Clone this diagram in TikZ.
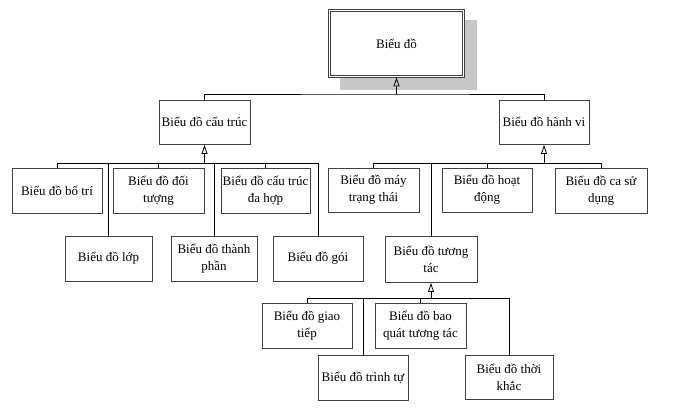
\documentclass[tikz,border=0pt]{standalone}
\usepackage{fontspec}
\setmainfont{Liberation Serif}
\usetikzlibrary{arrows.meta}
\begin{document}
\begin{tikzpicture}[x=1pt,y=-1pt,
  box/.style={draw=black!75, line width=0.9pt, fill=white, inner sep=1pt, align=center,
    font=\fontsize{13}{17}\selectfont,
    preaction={draw=black!45, line width=0.9pt, transform canvas={shift={(0.8pt,-0.8pt)}}}},
  link/.style={draw=black, line width=0.8pt},
  gen/.style={link, shorten >=0.5pt, -{Triangle[open, length=9pt, width=6pt, line width=0.8pt]}}]
\useasboundingbox (0,0) rectangle (682,413);

% root with shadow
\fill[black!22] (340,20) rectangle (477,90);
\node[draw=black!75, double, double distance=1.6pt, line width=0.8pt, fill=white,
  minimum width=134pt, minimum height=66pt, inner sep=0pt,
  font=\fontsize{13}{17}\selectfont] (root) at (396.5,43.5) {Biểu đồ};

% level 1
\node[box, minimum width=91pt, minimum height=44pt] (ct) at (204.5,122) {Biểu đồ cấu trúc};
\node[box, minimum width=90pt, minimum height=44pt] (hv) at (544,122) {Biểu đồ hành vi};

% structure children
\node[box, minimum width=90pt, minimum height=45pt] (bt) at (57,190.5) {Biểu đồ bố trí};
\node[box, minimum width=91pt, minimum height=45pt] (dt) at (158.5,190.5) {Biểu đồ đối\\tượng};
\node[box, minimum width=89pt, minimum height=45pt] (dh) at (265.5,190.5) {Biểu đồ cấu trúc\\đa hợp};
\node[box, minimum width=87pt, minimum height=45pt] (lop) at (108.5,258.5) {Biểu đồ lớp};
\node[box, minimum width=86pt, minimum height=45pt] (tp) at (214,258.5) {Biểu đồ thành\\phần};
\node[box, minimum width=90pt, minimum height=45pt] (goi) at (318,258.5) {Biểu đồ gói};

% behaviour children
\node[box, minimum width=91pt, minimum height=44pt] (may) at (373.5,190) {Biểu đồ máy\\trạng thái};
\node[box, minimum width=90pt, minimum height=44pt] (hd) at (487,190) {Biểu đồ hoạt\\động};
\node[box, minimum width=92pt, minimum height=45pt] (ca) at (601,190.5) {Biểu đồ ca sử\\dụng};
\node[box, minimum width=92pt, minimum height=46pt] (tt) at (431,259) {Biểu đồ tương\\tác};

% interaction children
\node[box, minimum width=90pt, minimum height=45pt] (gt) at (307,325.5) {Biểu đồ giao\\tiếp};
\node[box, minimum width=91pt, minimum height=45pt] (bq) at (420.5,325.5) {Biểu đồ bao\\quát tương tác};
\node[box, minimum width=90pt, minimum height=45pt] (tu) at (363,377.5) {Biểu đồ trình tự};
\node[box, minimum width=88pt, minimum height=44pt] (tk) at (509,377) {Biểu đồ thời\\khắc};

% connectors: root
\coordinate (bar0) at (396.5,94);
\draw[link] (ct.north) |- (bar0) -| (hv.north);
\draw[gen] (bar0) -- (root.south);

% connectors: structure
\path (ct.south) ++(0,19) coordinate (bar1);
\draw[link] (bt.north) |- (bar1) -| (goi.north);
\draw[link] (dt.north) |- (bar1);
\draw[link] (dh.north) |- (bar1);
\draw[link] (lop.north) |- (bar1);
\draw[link] (tp.north) |- (bar1);
\draw[gen] (bar1) -- (ct.south);

% connectors: behaviour
\path (hv.south) ++(0,19) coordinate (bar2);
\draw[link] (may.north) |- (bar2) -| (ca.north);
\draw[link] (hd.north) |- (bar2);
\draw[link] (tt.north) |- (bar2);
\draw[gen] (bar2) -- (hv.south);

% connectors: interaction
\path (tt.south) ++(0,16) coordinate (bar3);
\draw[link] (gt.north) |- (bar3) -| (tk.north);
\draw[link] (bq.north) |- (bar3);
\draw[link] (tu.north) |- (bar3);
\draw[gen] (bar3) -- (tt.south);
\end{tikzpicture}
\end{document}
